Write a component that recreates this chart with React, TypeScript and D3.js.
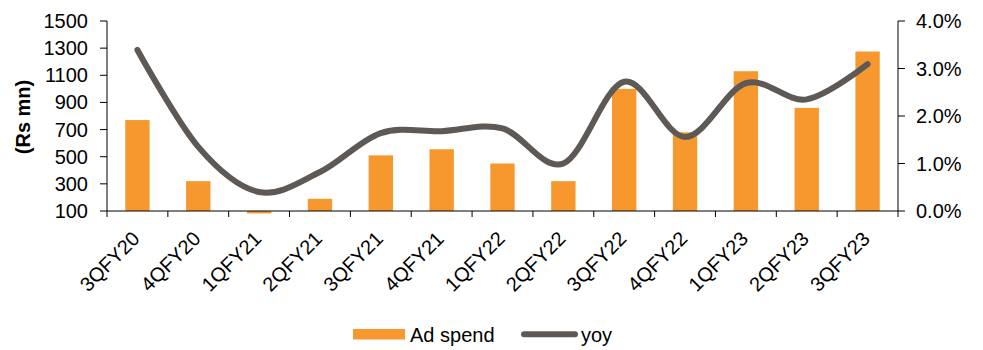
import React from "react";
import * as d3 from "d3";

const categories = ["3QFY20","4QFY20","1QFY21","2QFY21","3QFY21","4QFY21","1QFY22","2QFY22","3QFY22","4QFY22","1QFY23","2QFY23","3QFY23"];
const adSpend = [770, 320, 82, 190, 510, 555, 450, 320, 1000, 680, 1130, 860, 1275];
const yoy = [0.0339, 0.0135, 0.0040, 0.0082, 0.0164, 0.0168, 0.0174, 0.0100, 0.0272, 0.0156, 0.0269, 0.0235, 0.0309];
const leftTicks = [100, 300, 500, 700, 900, 1100, 1300, 1500];
const rightTicks = [0, 0.01, 0.02, 0.03, 0.04];

const W = 983, H = 350;
const L = 107, R = 898, T = 21, B = 211;
const FONT = "'Liberation Sans', Arial, sans-serif";
const ORANGE = "#F7982F";
const GREY = "#5F5955";

export default function App() {
  const x = d3.scaleBand<string>().domain(categories).range([L, R]).padding(0);
  const bw = x.bandwidth();
  const yL = d3.scaleLinear().domain([100, 1500]).range([B, T]);
  const yR = d3.scaleLinear().domain([0, 0.04]).range([B, T]);
  const line = d3.line<number>()
    .x((_, i) => (x(categories[i]) as number) + bw / 2)
    .y((d) => yR(d))
    .curve(d3.curveCardinal.tension(0));
  const barW = bw * 0.4;
  return (
    <svg width={W} height={H} style={{ position: "absolute", left: 0, top: 0, background: "#fff" }} fontFamily={FONT}>
      {adSpend.map((v, i) => {
        const cx = (x(categories[i]) as number) + bw / 2;
        const y0 = yL(100), y1 = yL(v);
        return <rect key={i} x={cx - barW / 2} y={Math.min(y0, y1)} width={barW} height={Math.abs(y0 - y1)} fill={ORANGE} />;
      })}
      <path d={line(yoy) || ""} fill="none" stroke={GREY} strokeWidth={6} strokeLinecap="round" strokeLinejoin="round" />
      {/* x axis */}
      <line x1={L} x2={R} y1={B} y2={B} stroke="#000" strokeWidth={1} />
      {categories.map((c, i) => (
        <line key={"t" + i} x1={(x(c) as number)} x2={(x(c) as number)} y1={B} y2={B + 6} stroke="#000" />
      ))}
      <line x1={R} x2={R} y1={B} y2={B + 6} stroke="#000" />
      {categories.map((c) => {
        const cx = (x(c) as number) + bw / 2;
        const ax = cx + 3.5, ay = 240;
        return (
          <text key={"l" + c} x={ax} y={ay} transform={`rotate(-45 ${ax} ${ay})`} textAnchor="end" fontSize={20} fill="#000">{c}</text>
        );
      })}
      {/* left axis */}
      <line x1={L} x2={L} y1={T} y2={B} stroke="#000" />
      {leftTicks.map((t) => (
        <g key={"lt" + t}>
          <line x1={L - 7} x2={L} y1={yL(t)} y2={yL(t)} stroke="#000" />
          <text x={88} y={yL(t) + 7} textAnchor="end" fontSize={20} fill="#000">{t}</text>
        </g>
      ))}
      <text x={23} y={117} transform="rotate(-90 23 117)" textAnchor="middle" dominantBaseline="central" fontSize={20} fontWeight="bold" fill="#000">(Rs mn)</text>
      {/* right axis */}
      <line x1={R} x2={R} y1={T} y2={B} stroke="#000" />
      {rightTicks.map((t) => (
        <g key={"rt" + t}>
          <line x1={R} x2={R + 7} y1={yR(t)} y2={yR(t)} stroke="#000" />
          <text x={916} y={yR(t) + 7} textAnchor="start" fontSize={20} fill="#000">{(t * 100).toFixed(1) + "%"}</text>
        </g>
      ))}
      {/* legend */}
      <rect x={353} y={329} width={52} height={10.5} fill={ORANGE} />
      <text x={410} y={341.5} fontSize={20} fill="#000">Ad spend</text>
      <line x1={524} x2={575} y1={334.3} y2={334.3} stroke={GREY} strokeWidth={6} strokeLinecap="round" />
      <text x={581} y={341.5} fontSize={20} fill="#000">yoy</text>
    </svg>
  );
}
